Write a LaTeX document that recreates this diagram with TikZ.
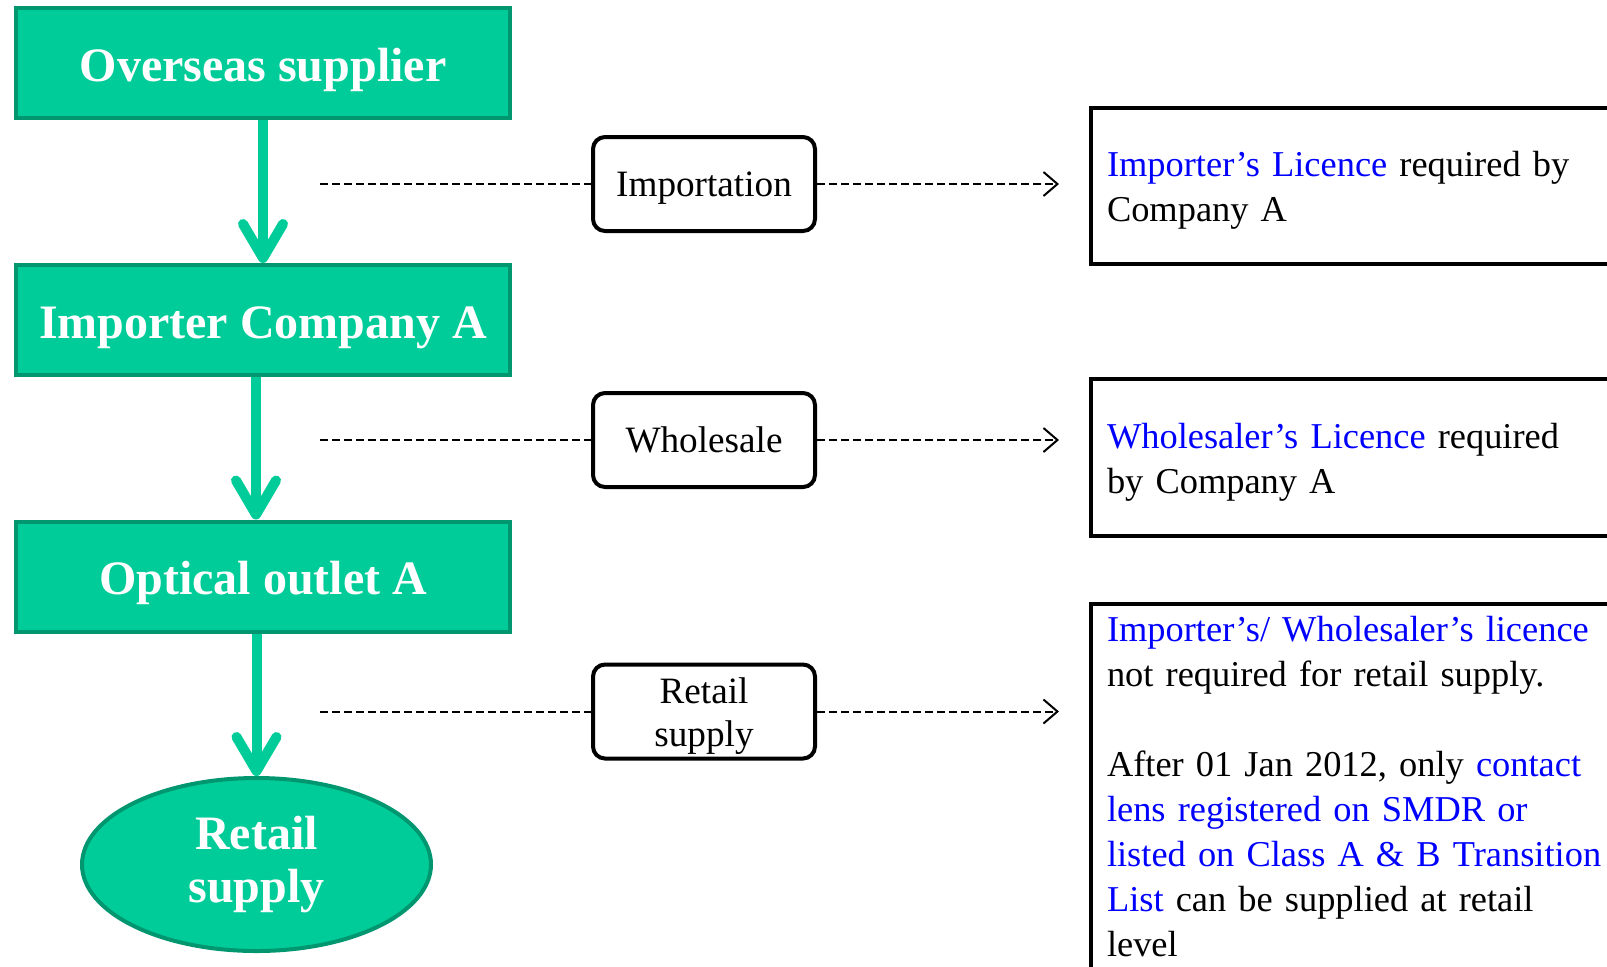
\documentclass[tikz,border=0pt]{standalone}
\usepackage{fontspec}
\setmainfont{Liberation Serif}
\usepackage{tikz}
\usetikzlibrary{positioning,arrows.meta,shapes.geometric}
\definecolor{colorstage}    {RGB}{0  ,204,153}
\definecolor{colorstageline}{RGB}{0  ,150,112}
\definecolor{colorlink}     {RGB}{0  ,0  ,255}
\definecolor{colortext}     {RGB}{0  ,0  ,0  }

\begin{document}
\begin{tikzpicture}[
    x=0.5pt, y=-0.5pt,
    stage/.style={draw=colorstageline,fill=colorstage,line width=2pt,text=white,
        font={\fontsize{24}{26.5}\selectfont\bfseries},
        minimum width=247pt,minimum height=55pt,inner sep=0pt},
    outlet/.style={stage,ellipse,minimum width=174.5pt,minimum height=86.5pt,align=center},
    activity/.style={draw,line width=2pt,rounded corners=6pt,text=colortext,
        minimum width=111pt,minimum height=47pt,inner sep=0pt,align=center,
        font={\fontsize{18.6}{21.5}\selectfont}},
    rule/.style={draw,line width=2pt,text=colortext,anchor=north west,
        text width=260pt,inner xsep=8pt,align=left,
        font={\fontsize{18.2}{22.5}\selectfont\fontdimen2\font=0.21em}},
    flow/.style={draw=colorstage,line width=5pt,
        -{Straight Barb[length=17pt,width=20pt,round]}},
    link/.style={draw,line width=1pt,dash pattern=on 4pt off 2pt},
]
    \useasboundingbox (0,0) rectangle (1607,966);
    \clip (0,0) rectangle (1607,966);

    % supply chain
    \node[stage,text height=18pt,text depth=0pt] (supplier) at (263,63) {Overseas supplier};
    \node[stage,text height=18pt,text depth=0pt] (importer) at (263,320) {Importer Company A};
    \node[stage,text height=18pt,text depth=0pt] (optical) at (263,576.5) {Optical outlet A};
    \node[outlet] (retail) at (256.5,864.5) {Retail\\supply};

    \draw[flow] (supplier.south) -- (importer.north);
    \draw[flow] ([xshift=-3.5pt]importer.south) -- ([xshift=-3.5pt]optical.north);
    \draw[flow] (optical.south -| retail.north) -- (retail.north);

    % activities
    \node[activity,text depth=0pt] (import) at (704,184) {Importation};
    \node[activity,text depth=0pt] (whole) at (704,440) {Wholesale};
    \node[activity] (sale) at (704,711.5) {\rule{0pt}{17pt}Retail\\supply};

    % licensing rules
    \node[rule,minimum height=78pt] (rulea) at (1089,105.5) {%
        \rule{0pt}{17pt}{\color{colorlink}Importer's Licence} required by\\
        Company A};
    \node[rule,minimum height=78.5pt] (ruleb) at (1089,377) {%
        \rule{0pt}{17pt}{\color{colorlink}Wholesaler's Licence} required\\
        by Company A};
    \node[rule] (rulec) at (1089,602) {%
        \rule{0pt}{15.5pt}{\color{colorlink}Importer's/ Wholesaler's licence}\\
        not required for retail supply.\\[22.5pt]
        After 01 Jan 2012, only {\color{colorlink}contact}\\
        {\color{colorlink}lens registered on SMDR or}\\
        {\color{colorlink}listed on Class A \& B Transition}\\
        {\color{colorlink}List} can be supplied at retail\\
        level\rule[-30pt]{0pt}{0pt}};

    \coordinate (froma) at (320,184);
    \coordinate (fromb) at (320,440);
    \coordinate (fromc) at (320,711.5);

    \draw[link] (froma) -- (import.west);
    \draw[link] (fromb) -- (whole.west);
    \draw[link] (fromc) -- (sale.west);
    \draw[link,-{Straight Barb[length=7pt,width=12pt]},shorten >=15pt]
        (import.east) -- (import.east -| rulea.west);
    \draw[link,-{Straight Barb[length=7pt,width=12pt]},shorten >=15pt]
        (whole.east) -- (whole.east -| ruleb.west);
    \draw[link,-{Straight Barb[length=7pt,width=12pt]},shorten >=15pt]
        (sale.east) -- (sale.east -| rulec.west);

\end{tikzpicture}
\end{document}
